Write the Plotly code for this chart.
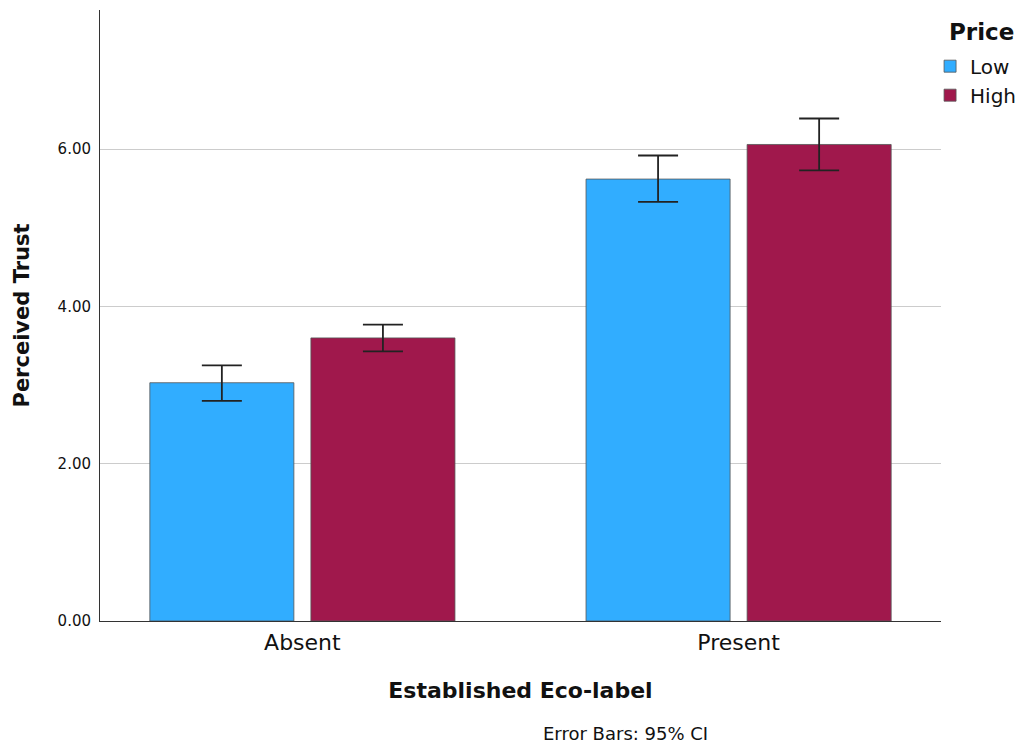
import plotly.graph_objects as go

categories = ["Absent", "Present"]
low_mean = [3.03, 5.62]
low_upper = [3.25, 5.92]
low_lower = [2.80, 5.33]
high_mean = [3.60, 6.06]
high_upper = [3.77, 6.39]
high_lower = [3.43, 5.73]
y_ticks = [0, 2, 4, 6]
y_tick_labels = ["0.00", "2.00", "4.00", "6.00"]

FONT = "DejaVu Sans"
# page is shown with the browser's 8px body margin, so plot area is set relative to that
W, H = 1018, 738
L, T = 92, 2
PW, PH = 841, 611

def err(mean, up, lo):
    return dict(type="data", symmetric=False,
                array=[u - m for u, m in zip(up, mean)],
                arrayminus=[m - l for m, l in zip(mean, lo)],
                color="#222222", thickness=1.8, width=20)

fig = go.Figure()
fig.add_trace(go.Bar(x=categories, y=low_mean, name="Low",
                     marker=dict(color="#31adff", line=dict(color="#555555", width=0.8)),
                     error_y=err(low_mean, low_upper, low_lower)))
fig.add_trace(go.Bar(x=categories, y=high_mean, name="High",
                     marker=dict(color="#a0184c", line=dict(color="#555555", width=0.8)),
                     error_y=err(high_mean, high_upper, high_lower)))

fig.update_layout(
    width=W, height=H,
    margin=dict(l=L, r=W - L - PW, t=T, b=H - T - PH, autoexpand=False),
    paper_bgcolor="white", plot_bgcolor="white",
    barmode="group", bargap=0.2615, bargroupgap=0.1056,
    font=dict(family=FONT, color="#111111"),
    showlegend=True,
    legend=dict(x=0.987, y=0.94, xanchor="left", yanchor="top",
                font=dict(size=20, family=FONT), tracegroupgap=0,
                itemwidth=30),
    xaxis=dict(range=[-0.464, 1.464], showline=True, linecolor="#333333", linewidth=1,
               ticks="", tickfont=dict(size=22, family=FONT), ticklabelstandoff=2,
               title=dict(text="<b>Established Eco-label</b>", font=dict(size=22, family=FONT), standoff=28)),
    yaxis=dict(range=[0, 7.77], showline=True, linecolor="#333333", linewidth=1,
               tickvals=y_ticks, ticktext=y_tick_labels, tickfont=dict(size=15, family=FONT),
               showgrid=True, gridcolor="#cccccc", gridwidth=1.2, zeroline=False,
               ticks="", ticklen=0, ticklabelstandoff=5,
               title=dict(text="<b>Perceived Trust</b>", font=dict(size=21, family=FONT), standoff=22)),
    annotations=[
        dict(text="Error Bars: 95% CI", x=(617 - L) / PW, xref="paper",
             y=-(725 - T - PH) / PH, yref="paper", xanchor="center", yanchor="middle",
             showarrow=False, font=dict(size=18, family=FONT)),
        dict(text="<b>Price</b>", x=(939 - L) / PW, xref="paper",
             y=(T + PH - 24) / PH, yref="paper", xanchor="left", yanchor="middle",
             showarrow=False, font=dict(size=23, family=FONT)),
    ],
)
fig.write_html("out.html")
